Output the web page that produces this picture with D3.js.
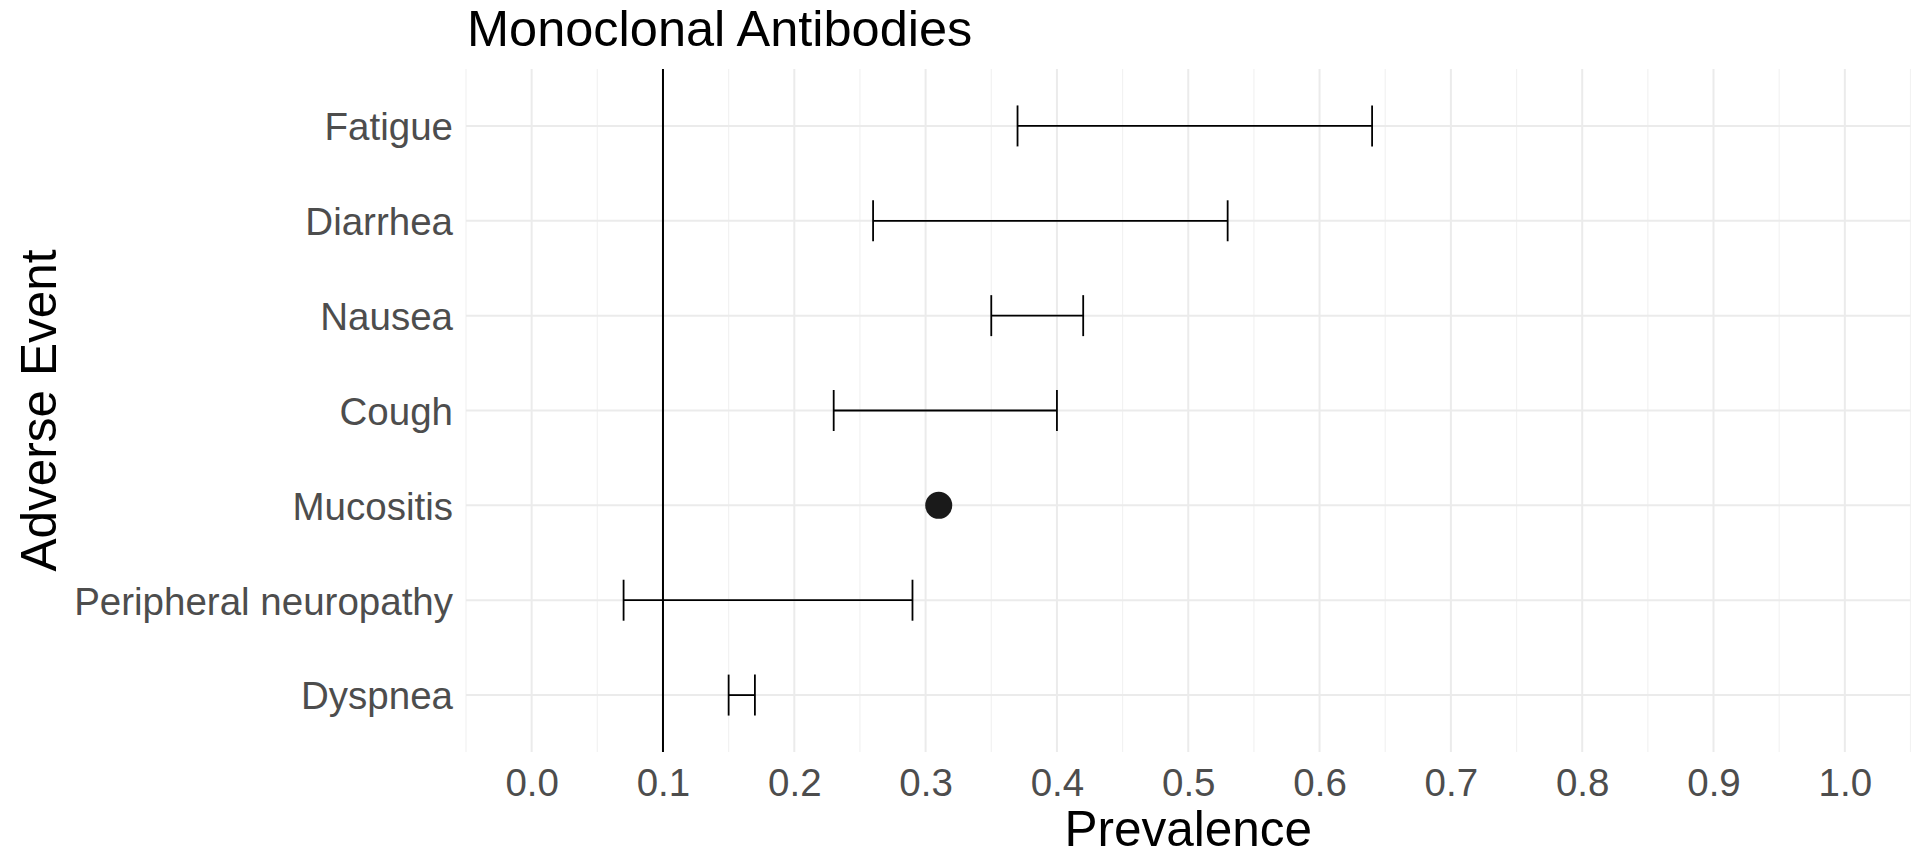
<!DOCTYPE html>
<html>
<head>
<meta charset="utf-8">
<script src="https://cdn.jsdelivr.net/npm/d3@7"></script>
<style>
  body { margin: 0; background: #fff; }
  svg text { font-family: "Liberation Sans", Arial, sans-serif; }
</style>
</head>
<body>
<div id="chart"></div>
<script>
// data
var events = ["Fatigue", "Diarrhea", "Nausea", "Cough", "Mucositis", "Peripheral neuropathy", "Dyspnea"];
var lower = [0.37, 0.26, 0.35, 0.23, null, 0.07, 0.15];
var upper = [0.64, 0.53, 0.42, 0.40, null, 0.29, 0.17];
var estimate = [null, null, null, null, 0.31, null, null];
var xTicks = [0.0, 0.1, 0.2, 0.3, 0.4, 0.5, 0.6, 0.7, 0.8, 0.9, 1.0];
var refLine = 0.1;

var attrs = {
  width: 1911,
  height: 853,
  margin: { top: 69, right: 0.5, bottom: 101, left: 466 }
};

var svg = d3.select("#chart").append("svg")
  .attr("width", attrs.width)
  .attr("height", attrs.height);

var chartWidth = attrs.width - attrs.margin.left - attrs.margin.right;
var chartHeight = attrs.height - attrs.margin.top - attrs.margin.bottom;

var x = d3.scaleLinear()
  .domain([-0.05, 1.05])
  .range([attrs.margin.left, attrs.margin.left + chartWidth]);

var y = d3.scalePoint()
  .domain(events)
  .range([attrs.margin.top, attrs.margin.top + chartHeight])
  .padding(0.6);

var panelTop = attrs.margin.top, panelBottom = attrs.margin.top + chartHeight;

// minor grid (midpoints between major ticks)
var minor = d3.range(xTicks.length + 1).map(function (i) { return -0.05 + i * 0.1; });
svg.append("g").selectAll("line").data(minor).enter().append("line")
  .attr("x1", d => x(d)).attr("x2", d => x(d))
  .attr("y1", panelTop).attr("y2", panelBottom)
  .attr("stroke", "#f2f2f2").attr("stroke-width", 1.2);

// major grid
svg.append("g").selectAll("line").data(xTicks).enter().append("line")
  .attr("x1", d => x(d)).attr("x2", d => x(d))
  .attr("y1", panelTop).attr("y2", panelBottom)
  .attr("stroke", "#ebebeb").attr("stroke-width", 2);

svg.append("g").selectAll("line").data(events).enter().append("line")
  .attr("x1", x.range()[0]).attr("x2", x.range()[1])
  .attr("y1", d => y(d)).attr("y2", d => y(d))
  .attr("stroke", "#ebebeb").attr("stroke-width", 2);

// reference line
svg.append("line")
  .attr("x1", x(refLine)).attr("x2", x(refLine))
  .attr("y1", panelTop).attr("y2", panelBottom)
  .attr("stroke", "#000").attr("stroke-width", 2);

// error bars
var capHalf = y.step() * 0.216;
var bars = events.map(function (e, i) { return { name: e, lo: lower[i], hi: upper[i] }; })
  .filter(d => d.lo != null);

var eb = svg.append("g").selectAll("g").data(bars).enter().append("g")
  .attr("stroke", "#000").attr("stroke-width", 1.8).attr("fill", "none");
eb.append("line")
  .attr("x1", d => x(d.lo)).attr("x2", d => x(d.hi))
  .attr("y1", d => y(d.name)).attr("y2", d => y(d.name));
eb.append("line")
  .attr("x1", d => x(d.lo)).attr("x2", d => x(d.lo))
  .attr("y1", d => y(d.name) - capHalf).attr("y2", d => y(d.name) + capHalf);
eb.append("line")
  .attr("x1", d => x(d.hi)).attr("x2", d => x(d.hi))
  .attr("y1", d => y(d.name) - capHalf).attr("y2", d => y(d.name) + capHalf);

// points
var pts = events.map(function (e, i) { return { name: e, v: estimate[i] }; })
  .filter(d => d.v != null);
svg.append("g").selectAll("circle").data(pts).enter().append("circle")
  .attr("cx", d => x(d.v)).attr("cy", d => y(d.name))
  .attr("r", 13.5).attr("fill", "#1a1a1a");

// x axis
var xAxis = svg.append("g")
  .attr("transform", "translate(0," + panelBottom + ")")
  .call(d3.axisBottom(x).tickValues(xTicks).tickSize(0).tickPadding(0).tickFormat(d3.format(".1f")));
xAxis.select(".domain").remove();
xAxis.selectAll("text")
  .attr("y", 44).attr("dy", null)
  .attr("fill", "#4d4d4d")
  .style("font-size", "38.5px");

// y axis
var yAxis = svg.append("g")
  .attr("transform", "translate(" + attrs.margin.left + ",0)")
  .call(d3.axisLeft(y).tickSize(0).tickPadding(13));
yAxis.select(".domain").remove();
yAxis.selectAll("text")
  .attr("dy", "0.36em")
  .attr("fill", "#4d4d4d")
  .style("font-size", "38.5px");

// titles
svg.append("text")
  .attr("x", 467).attr("y", 46)
  .attr("fill", "#000")
  .style("font-size", "50.5px")
  .text("Monoclonal Antibodies");

svg.append("text")
  .attr("x", (x.range()[0] + x.range()[1]) / 2).attr("y", 846)
  .attr("text-anchor", "middle")
  .attr("fill", "#000")
  .style("font-size", "49.5px")
  .text("Prevalence");

svg.append("text")
  .attr("transform", "translate(56," + ((panelTop + panelBottom) / 2) + ") rotate(-90)")
  .attr("text-anchor", "middle")
  .attr("fill", "#000")
  .style("font-size", "49.5px")
  .text("Adverse Event");
</script>
</body>
</html>
